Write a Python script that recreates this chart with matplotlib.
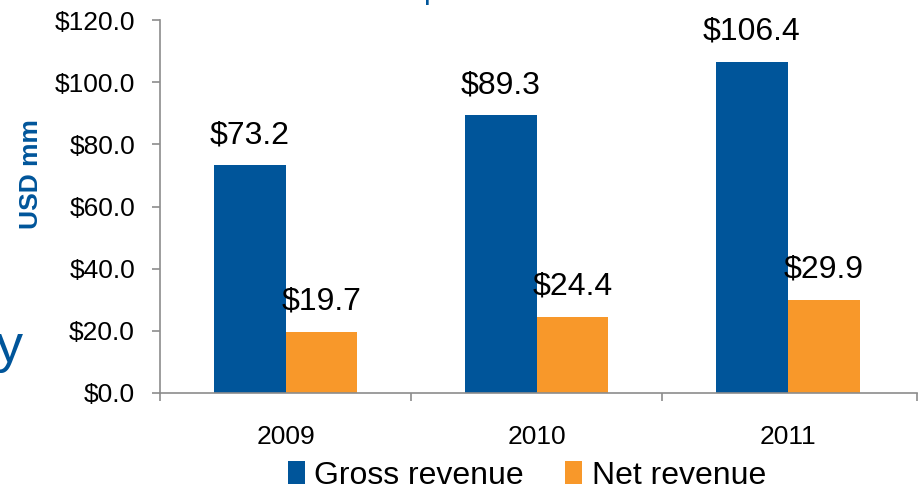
import numpy as np
import matplotlib
matplotlib.use("Agg")
import matplotlib.pyplot as plt
from matplotlib.ticker import FixedLocator, FuncFormatter

years = ['2009', '2010', '2011']
gross = [73.2, 89.3, 106.4]
net = [19.7, 24.4, 29.9]
series_names = ['Gross revenue', 'Net revenue']

blue = '#00559A'
orange = '#F8982A'
grey = '#8C8C8C'

plt.rcParams['font.family'] = ['Liberation Sans', 'DejaVu Sans']

fig = plt.figure(figsize=(9.19, 4.84), dpi=100)
ax = fig.add_axes([160 / 919, 91 / 484, 757 / 919, 373 / 484])

x = np.arange(len(years))
w = 0.286
b1 = ax.bar(x - w / 2, gross, w, color=blue, label=series_names[0])
b2 = ax.bar(x + w / 2, net, w, color=orange, label=series_names[1])

for bars, vals in ((b1, gross), (b2, net)):
    for r, v in zip(bars, vals):
        ax.annotate('$%.1f' % v, (r.get_x() + r.get_width() / 2, v),
                    xytext=(0, 11), textcoords='offset points',
                    ha='center', va='bottom', fontsize=23)

right_end = 2.515
ax.set_xlim(-0.5, right_end)
ax.set_ylim(0, 120)
ax.set_yticks(np.arange(0, 121, 20))
ax.yaxis.set_major_formatter(FuncFormatter(lambda v, p: '$%.1f' % v))
ax.set_xticks(x)
ax.set_xticklabels(years)
ax.xaxis.set_minor_locator(FixedLocator([-0.5, 0.5, 1.5, right_end]))
ax.tick_params(axis='x', which='major', length=0, pad=23, labelsize=19)
ax.tick_params(axis='x', which='minor', length=6, color=grey, width=1.2)
ax.tick_params(axis='y', length=6, color=grey, width=1.2, pad=12, labelsize=19)

for s in ('top', 'right'):
    ax.spines[s].set_visible(False)
for s in ('left', 'bottom'):
    ax.spines[s].set_color(grey)
    ax.spines[s].set_linewidth(1.2)

fig.text(31 / 919, 1 - 174 / 484, 'USD mm', rotation=90, color=blue,
         fontsize=19, fontweight='bold', ha='center', va='center')

# pieces of surrounding slide text that are cut off by the crop
fig.text(23 / 919, 1 - 362 / 484, 'y', color=blue, fontsize=39,
         ha='right', va='baseline')
fig.text(423 / 919, 1 + 2 / 484, 'p', color=blue, fontsize=22,
         ha='left', va='baseline')

fig.legend(handles=[b1, b2], labels=series_names, loc='center',
           bbox_to_anchor=(527 / 919, 1 - 476 / 484), ncol=2,
           frameon=False, fontsize=23, handlelength=0.52, handleheight=0.85,
           handletextpad=0.3, columnspacing=1.3, borderpad=0)

fig.savefig('out.png', dpi=100)
